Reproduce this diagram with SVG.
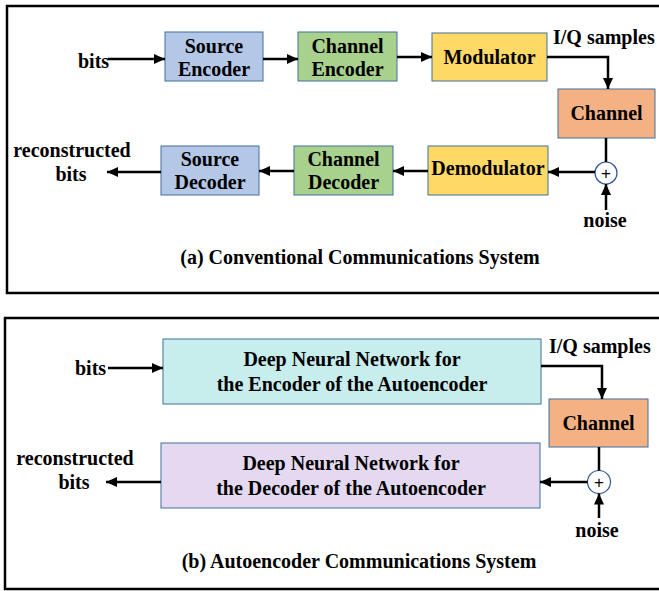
<svg xmlns="http://www.w3.org/2000/svg" width="659" height="591" viewBox="0 0 659 591">
<style>
text{font-family:"Liberation Serif","Times New Roman",serif;font-weight:bold;font-size:20px;fill:#000}
.c{text-anchor:middle}
.frame{fill:none;stroke:#000;stroke-width:2.5}
.box{stroke:#41719C;stroke-width:1}
.blue{fill:#B4C7E7}.green{fill:#A9D18E}.yellow{fill:#FFD966}.orange{fill:#F4B183}.cyan{fill:#C8EDED}.lav{fill:#E4D9F0}
.wire{fill:none;stroke:#000;stroke-width:2.5}
.sum{fill:#fff;stroke:#2F5597;stroke-width:1.2}
.plus{font-family:"Liberation Sans",Arial,sans-serif;font-weight:normal;font-size:17px;text-anchor:middle}
</style>
<defs>
<marker id="ah" markerUnits="userSpaceOnUse" markerWidth="11" markerHeight="10" refX="11" refY="5" orient="auto">
<path d="M0,0 L11,5 L0,10 z" fill="#000"/>
</marker>
</defs>
<rect width="659" height="591" fill="#fff"/>
<rect class="frame" x="7" y="6" width="665" height="287"/>
<rect class="frame" x="5" y="318" width="667" height="271"/>

<g id="a-source-encoder"><rect class="box blue" x="165" y="32" width="98" height="49"/><text class="c" x="214" y="53">Source</text><text class="c" x="214" y="76">Encoder</text></g>
<g id="a-channel-encoder"><rect class="box green" x="298" y="32" width="99" height="49"/><text class="c" x="347.5" y="53">Channel</text><text class="c" x="347.5" y="76">Encoder</text></g>
<g id="a-modulator"><rect class="box yellow" x="432" y="33" width="115" height="48"/><text class="c" x="489.5" y="64">Modulator</text></g>
<g id="a-channel"><rect class="box orange" x="558" y="89" width="97" height="49"/><text class="c" x="606.5" y="120">Channel</text></g>
<g id="a-source-decoder"><rect class="box blue" x="161" y="146" width="98" height="49"/><text class="c" x="210" y="166">Source</text><text class="c" x="210" y="189">Decoder</text></g>
<g id="a-channel-decoder"><rect class="box green" x="294" y="146" width="99" height="49"/><text class="c" x="343.5" y="166">Channel</text><text class="c" x="343.5" y="189">Decoder</text></g>
<g id="a-demodulator"><rect class="box yellow" x="428" y="146" width="120" height="49"/><text class="c" x="488" y="175">Demodulator</text></g>
<g id="a-sum"><circle class="sum" cx="606" cy="173" r="11"/><text class="plus" x="606" y="179">+</text></g>

<g id="a-labels">
<text x="78" y="68">bits</text>
<text x="553" y="44">I/Q samples</text>
<text class="c" x="72" y="157">reconstructed</text>
<text class="c" x="71" y="181">bits</text>
<text class="c" x="605" y="227">noise</text>
<text class="c" x="360" y="264">(a) Conventional Communications System</text>
</g>

<g id="b-encoder"><rect class="box cyan" x="163" y="339" width="378" height="65"/><text class="c" x="352" y="366">Deep Neural Network for</text><text class="c" x="352" y="391">the Encoder of the Autoencoder</text></g>
<g id="b-channel"><rect class="box orange" x="549" y="399" width="99" height="48"/><text class="c" x="598.5" y="430">Channel</text></g>
<g id="b-decoder"><rect class="box lav" x="161" y="443" width="379" height="65"/><text class="c" x="351" y="470">Deep Neural Network for</text><text class="c" x="351" y="495">the Decoder of the Autoencoder</text></g>
<g id="b-sum"><circle class="sum" cx="599" cy="482" r="11.5"/><text class="plus" x="599" y="488">+</text></g>

<g id="b-labels">
<text x="75" y="375">bits</text>
<text x="549" y="353">I/Q samples</text>
<text class="c" x="75" y="465">reconstructed</text>
<text class="c" x="74" y="489">bits</text>
<text class="c" x="597" y="537">noise</text>
<text class="c" x="359" y="568">(b) Autoencoder Communications System</text>
</g>

<g id="connectors">
<line class="wire" x1="108" y1="59" x2="165" y2="59" marker-end="url(#ah)"/>
<line class="wire" x1="263" y1="59" x2="298" y2="59" marker-end="url(#ah)"/>
<line class="wire" x1="397" y1="57" x2="432" y2="57" marker-end="url(#ah)"/>
<polyline class="wire" points="547,57 608,57 608,89" marker-end="url(#ah)"/>
<line class="wire" x1="606" y1="138" x2="606" y2="162"/>
<line class="wire" x1="606" y1="210" x2="606" y2="184" marker-end="url(#ah)"/>
<line class="wire" x1="595" y1="172" x2="548" y2="172" marker-end="url(#ah)"/>
<line class="wire" x1="428" y1="171" x2="393" y2="171" marker-end="url(#ah)"/>
<line class="wire" x1="294" y1="171" x2="259" y2="171" marker-end="url(#ah)"/>
<line class="wire" x1="161" y1="172" x2="107" y2="172" marker-end="url(#ah)"/>

<line class="wire" x1="108" y1="368" x2="163" y2="368" marker-end="url(#ah)"/>
<polyline class="wire" points="541,366 602,366 602,399" marker-end="url(#ah)"/>
<line class="wire" x1="599" y1="447" x2="599" y2="470.5"/>
<line class="wire" x1="599" y1="518" x2="599" y2="493.5" marker-end="url(#ah)"/>
<line class="wire" x1="587.5" y1="482" x2="540" y2="482" marker-end="url(#ah)"/>
<line class="wire" x1="161" y1="482" x2="106" y2="482" marker-end="url(#ah)"/>
</g>
</svg>
